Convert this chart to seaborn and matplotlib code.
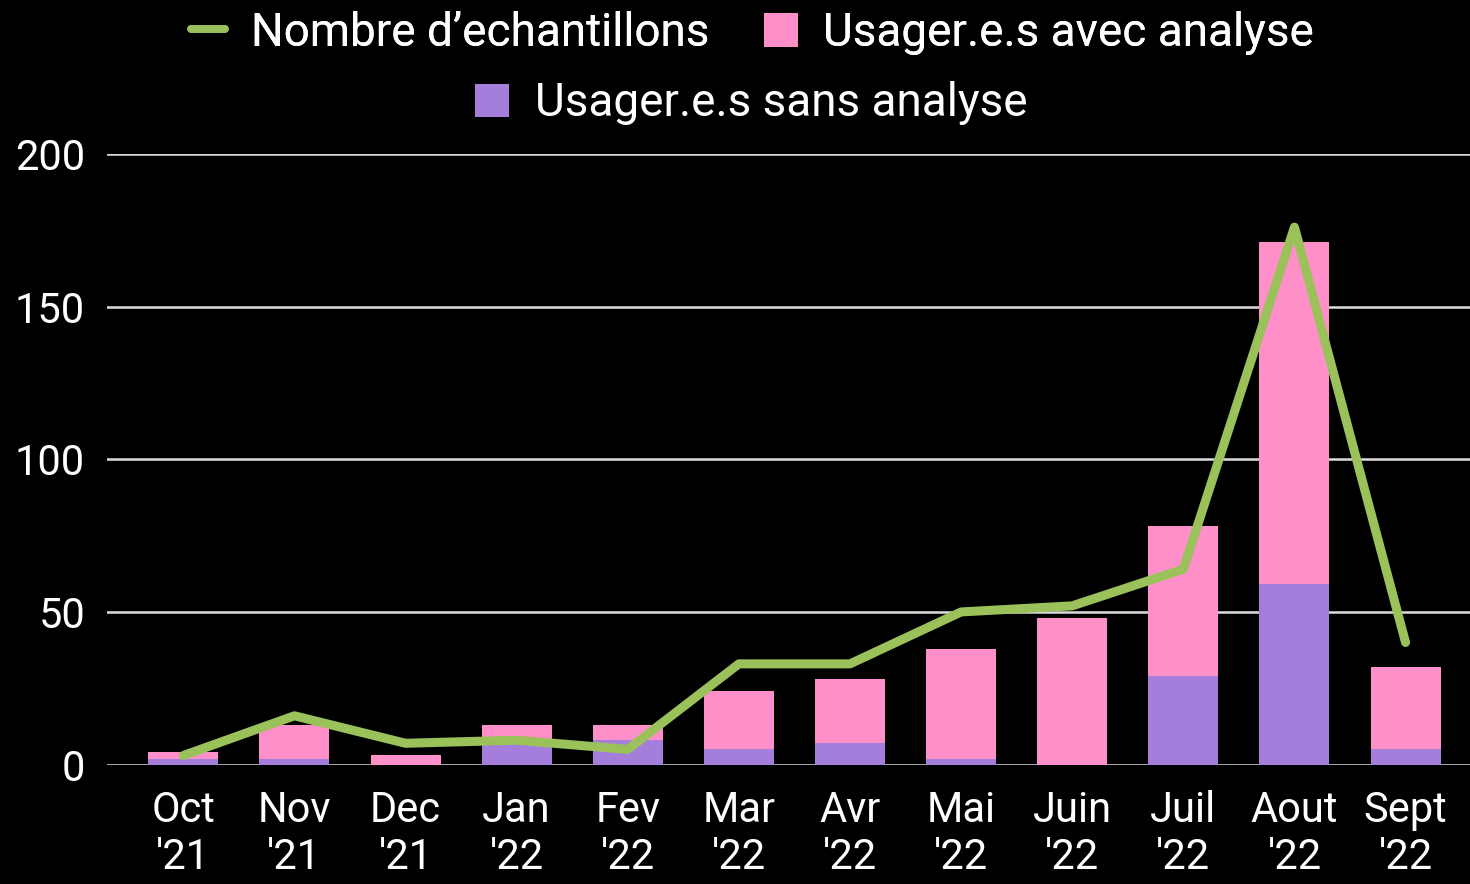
import pandas as pd
import seaborn as sns
import matplotlib.pyplot as plt
from matplotlib.lines import Line2D
from matplotlib.patches import Patch

# Values
mois = ["Oct\n'21", "Nov\n'21", "Dec\n'21", "Jan\n'22", "Fev\n'22", "Mar\n'22",
        "Avr\n'22", "Mai\n'22", "Juin\n'22", "Juil\n'22", "Aout\n'22", "Sept\n'22"]
sans_analyse = [2, 2, 0, 7, 8, 5, 7, 2, 0, 29, 59, 5]
avec_analyse = [2, 11, 3, 6, 5, 19, 21, 36, 48, 49, 112, 27]
echantillons = [3, 16, 7, 8, 5, 33, 33, 50, 52, 64, 176, 40]

df = pd.DataFrame({'mois': mois, 'sans': sans_analyse, 'avec': avec_analyse,
                   'n': echantillons})
df['total'] = df['sans'] + df['avec']

pink = '#FF8FC8'
purple = '#A57DDB'
green = '#9BC25A'

sns.set_style('dark')
plt.rcParams['font.family'] = ['Roboto', 'DejaVu Sans']

fig = plt.figure(figsize=(14.7, 8.84), dpi=100, facecolor='black')
ax = fig.add_axes([0.073, 0.135, 0.927, 0.691])
ax.set_facecolor('black')

# stacked bars: pink total, purple on top of it from zero
sns.barplot(data=df, x='mois', y='total', color=pink, saturation=1, width=0.63,
            linewidth=0, ax=ax, zorder=2)
sns.barplot(data=df, x='mois', y='sans', color=purple, saturation=1, width=0.63,
            linewidth=0, ax=ax, zorder=3)
sns.lineplot(x=range(len(mois)), y=df['n'], color=green, linewidth=6.5, ax=ax, zorder=4)

ax.set_ylim(0, 200)
ax.set_xlim(-0.684, 11.58)
ax.set_yticks([0, 50, 100, 150, 200])
ax.yaxis.grid(True, color='#DDDDDD', linewidth=1.8, zorder=0)
ax.xaxis.grid(False)
ax.set_axisbelow(True)
for s in ax.spines.values():
    s.set_visible(False)
ax.set_xlabel('')
ax.set_ylabel('')
ax.set_xticks(range(len(mois)))
ax.set_xticklabels(mois, linespacing=1.2)
ax.tick_params(axis='both', colors='white', labelsize=30, length=0)
ax.tick_params(axis='y', pad=16)
ax.tick_params(axis='x', pad=18)

# legend: two rows, centered
kw = dict(frameon=False, fontsize=33, labelcolor='white', handlelength=0.75,
          handleheight=0.75, handletextpad=0.55)
h1 = [Line2D([0], [0], color=green, linewidth=5.5),
      Patch(facecolor=pink, edgecolor='none')]
leg1 = fig.legend(h1, ["Nombre d\u2019echantillons", "Usager.e.s avec analyse"],
                  loc='center', bbox_to_anchor=(0.512, 0.963), ncol=2,
                  columnspacing=1.2, **kw)
fig.add_artist(leg1)
fig.legend([Patch(facecolor=purple, edgecolor='none')], ["Usager.e.s sans analyse"],
           loc='center', bbox_to_anchor=(0.511, 0.883), **kw)

fig.savefig('out.png', dpi=100, facecolor='black')
